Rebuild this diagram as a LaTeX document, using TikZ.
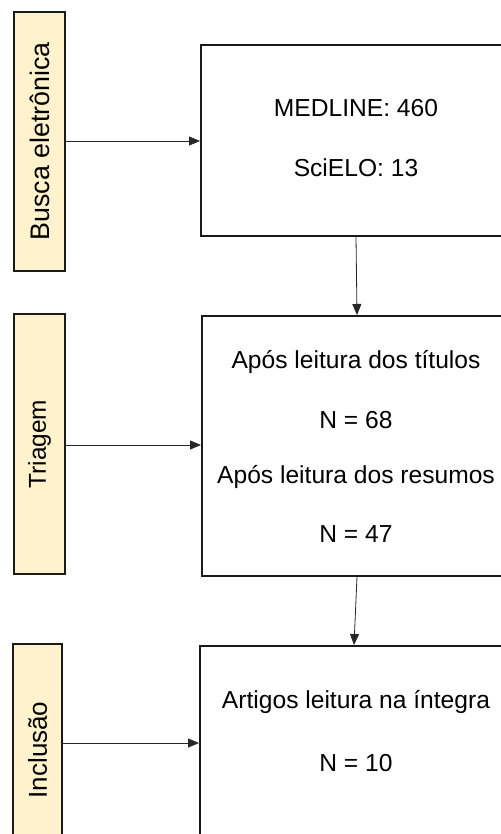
\documentclass[tikz,border=0pt]{standalone}
\usepackage{fontspec}
\setmainfont{Liberation Sans}
\usetikzlibrary{arrows.meta}
\definecolor{stagefill}{HTML}{FFF2CC}
\definecolor{edge}{HTML}{1A1A1A}
\begin{document}
\begin{tikzpicture}[x=1pt,y=-1pt,
  stage/.style={draw=edge,line width=1.6pt,fill=stagefill,rotate=90,
    inner sep=0pt,font=\fontsize{26}{30}\selectfont},
  stepbox/.style={draw=edge,line width=1.6pt,fill=white,anchor=north west,
    inner sep=0pt},
  txt/.style={font=\fontsize{24.6}{30}\selectfont,inner sep=0pt},
  arr/.style={draw=black!85,line width=0.8pt,-{Triangle[length=11pt,width=9pt]}}]
\useasboundingbox (0,0) rectangle (500,834);

% stage labels (rotated)
\node[stage,minimum width=259pt,minimum height=51pt,font=\fontsize{26.8}{30}\selectfont] (l1) at (39.5,141.5) {Busca eletrônica};
\node[stage,minimum width=260pt,minimum height=51pt,font=\fontsize{24.4}{30}\selectfont] (l2) at (39.5,444) {Triagem};
\node[stage,minimum width=212pt,minimum height=49pt] (l3) at (37.5,750) {Inclusão};

% main boxes
\node[stepbox,minimum width=312pt,minimum height=191pt] (b1) at (200,44) {};
\node[stepbox,minimum width=311pt,minimum height=260pt] (b2) at (201,315) {};
\node[stepbox,minimum width=313pt,minimum height=240pt] (b3) at (199,645) {};

% box contents
\node[txt] (t11) at (356,108) {MEDLINE:\ 460};
\node[txt] (t12) at (356,168) {SciELO: 13};
\node[txt] (t21) at (356,362) {Após leitura dos títulos};
\node[txt] (t22) at (356,420) {N = 68};
\node[txt] (t23) at (356,477) {Após leitura dos resumos};
\node[txt] (t24) at (356,534) {N = 47};
\node[txt] (t31) at (356,702) {Artigos leitura na íntegra};
\node[txt] (t32) at (356,763) {N = 10};

% connectors
\draw[arr] (l1.south |- 0,141) -- (b1.west |- 0,141);
\draw[arr] (l2.south |- 0,445) -- (b2.west |- 0,445);
\draw[arr] (l3.south |- 0,743) -- (b3.west |- 0,743);
\draw[arr] (b1.south -| 356,0) -- (b2.north -| 357,0);
\draw[arr] (b2.south -| 357,0) -- (b3.north -| 354,0);
\end{tikzpicture}
\end{document}
